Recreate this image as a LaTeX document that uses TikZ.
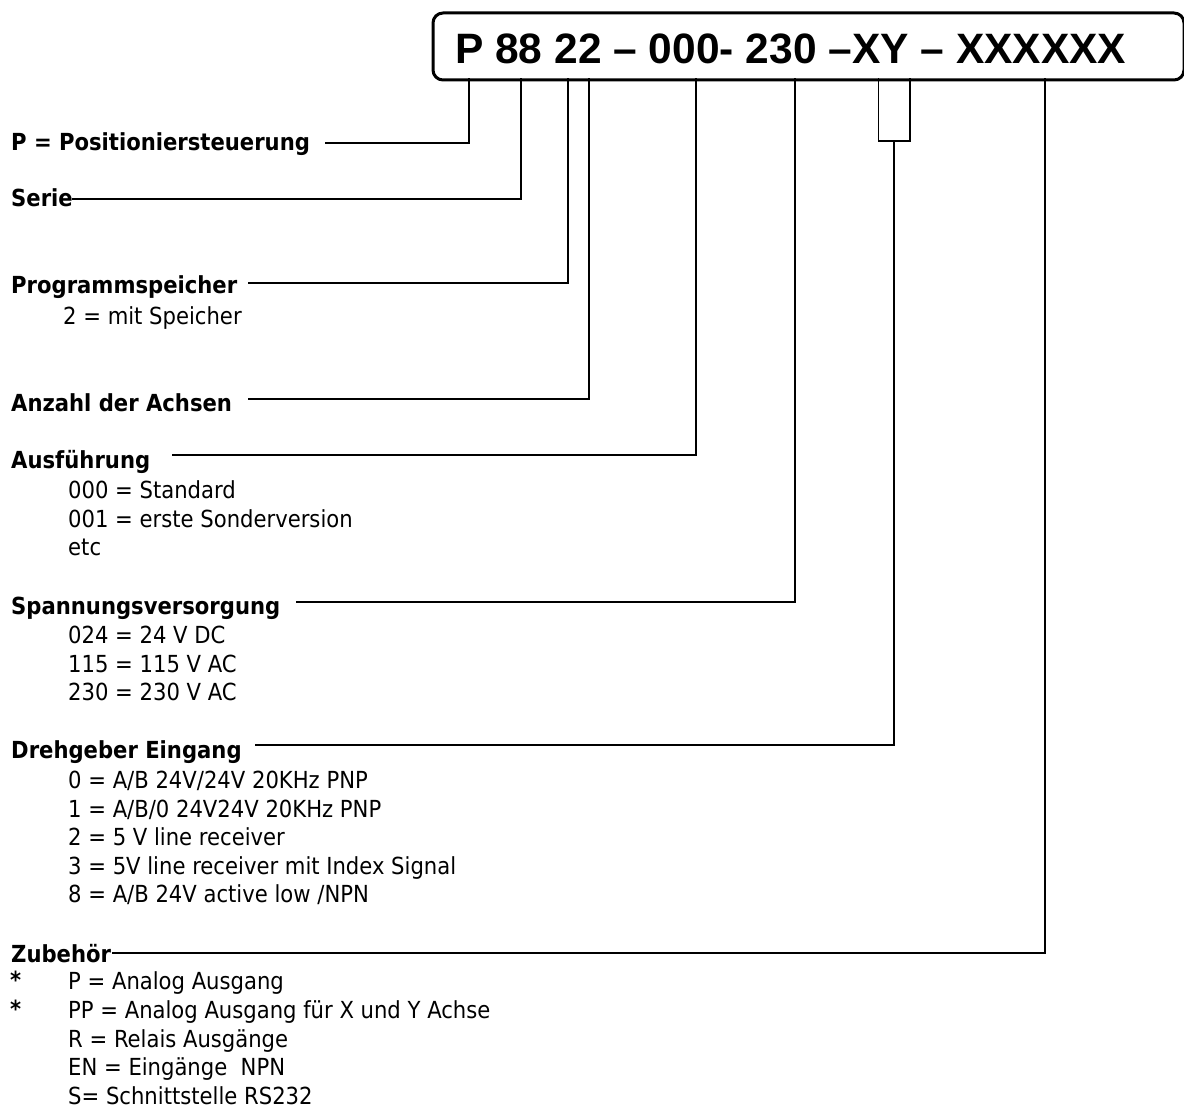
\documentclass[tikz,border=0pt]{standalone}
\usepackage{fontspec}
\setmainfont{DejaVu Sans Condensed}
\newfontfamily\titlefont{Liberation Sans}
\begin{document}
\begin{tikzpicture}[x=1pt,y=-1pt,
  head/.style={font=\bfseries\fontsize{23.5}{28}\selectfont, anchor=base west, inner sep=0pt},
  item/.style={font=\fontsize{23.5}{28}\selectfont, anchor=base west, inner sep=0pt},
  conn/.style={line width=1.5pt, line join=miter},
  codebox/.style={draw, line width=3pt, rounded corners=10pt, inner sep=0pt, anchor=north west}
]
\useasboundingbox (0,0) rectangle (1184,1110);

% code box
\node[codebox, minimum width=751pt, minimum height=67pt] (box) at (431.5,11.5) {};
\node[font=\titlefont\bfseries\fontsize{42.5}{42.5}\selectfont, anchor=base west, inner sep=0pt] (title) at (455,63.5) {P 88 22 – 000- 230 –XY – XXXXXX};

% attachment points on the box bottom
\coordinate (tP)   at (469,78.5);
\coordinate (t88)  at (521,78.5);
\coordinate (t22a) at (568,78.5);
\coordinate (t22b) at (589,78.5);
\coordinate (t000) at (696,78.5);
\coordinate (t230) at (795,78.5);
\coordinate (tXYl) at (878.5,78.5);
\coordinate (tXYr) at (910,78.5);
\coordinate (mXY)  at (894,141);
\coordinate (tX)   at (1045,78.5);

% labels
\node[head] (lP) at (11,151) {P = Positioniersteuerung};
\node[head] (lSerie) at (11,207) {Serie};
\node[head] (lProg) at (11,294) {Programmspeicher};
\node[item] (iProg) at (63,324) {2 = mit Speicher};
\node[head] (lAnz) at (11,411) {Anzahl der Achsen};
\node[head] (lAus) at (11,468) {Ausführung};
\node[item] (iAus1) at (68,498) {000 = Standard};
\node[item] (iAus2) at (68,527) {001 = erste Sonderversion};
\node[item] (iAus3) at (68,555) {etc};
\node[head] (lSpan) at (11,614) {Spannungsversorgung};
\node[item] (iSpan1) at (68,643) {024 = 24 V DC};
\node[item] (iSpan2) at (68,672) {115 = 115 V AC};
\node[item] (iSpan3) at (68,700) {230 = 230 V AC};
\node[head] (lDreh) at (11,758) {Drehgeber Eingang};
\node[item] (iDreh1) at (68,788) {0 = A/B 24V/24V 20KHz PNP};
\node[item] (iDreh2) at (68,817) {1 = A/B/0 24V24V 20KHz PNP};
\node[item] (iDreh3) at (68,845) {2 = 5 V line receiver};
\node[item] (iDreh4) at (68,874) {3 = 5V line receiver mit Index Signal};
\node[item] (iDreh5) at (68,902) {8 = A/B 24V active low /NPN};
\node[head] (lZub) at (11,962) {Zubehör};
\node[head] (star1) at (10,988) {*};
\node[head] (star2) at (10,1017) {*};
\node[item] (iZub1) at (68,989) {P = Analog Ausgang};
\node[item] (iZub2) at (68,1018) {PP = Analog Ausgang für X und Y Achse};
\node[item] (iZub3) at (68,1047) {R = Relais Ausgänge};
\node[item] (iZub4) at (68,1075) {EN = Eingänge\ \ NPN};
\node[item] (iZub5) at (68,1104) {S= Schnittstelle RS232};

% connector start points
\coordinate (sP)    at (325,143);
\coordinate (sSerie) at (72,199);
\coordinate (sProg) at (248,283);
\coordinate (sAnz)  at (248,399);
\coordinate (sAus)  at (172,455);
\coordinate (sSpan) at (296,602);
\coordinate (sDreh) at (255,745);
\coordinate (sZub)  at (112,953);

% connectors
\draw[conn] (sP) -| (tP);
\draw[conn] (sSerie) -| (t88);
\draw[conn] (sProg) -| (t22a);
\draw[conn] (sAnz) -| (t22b);
\draw[conn] (sAus) -| (t000);
\draw[conn] (sSpan) -| (t230);
\draw[conn] (tXYl) |- (mXY) -| (tXYr);
\draw[conn] (tXYl |- mXY) -- (tXYr |- mXY);
\draw[conn] (sDreh) -| (mXY);
\draw[conn] (sZub) -| (tX);
\end{tikzpicture}
\end{document}
